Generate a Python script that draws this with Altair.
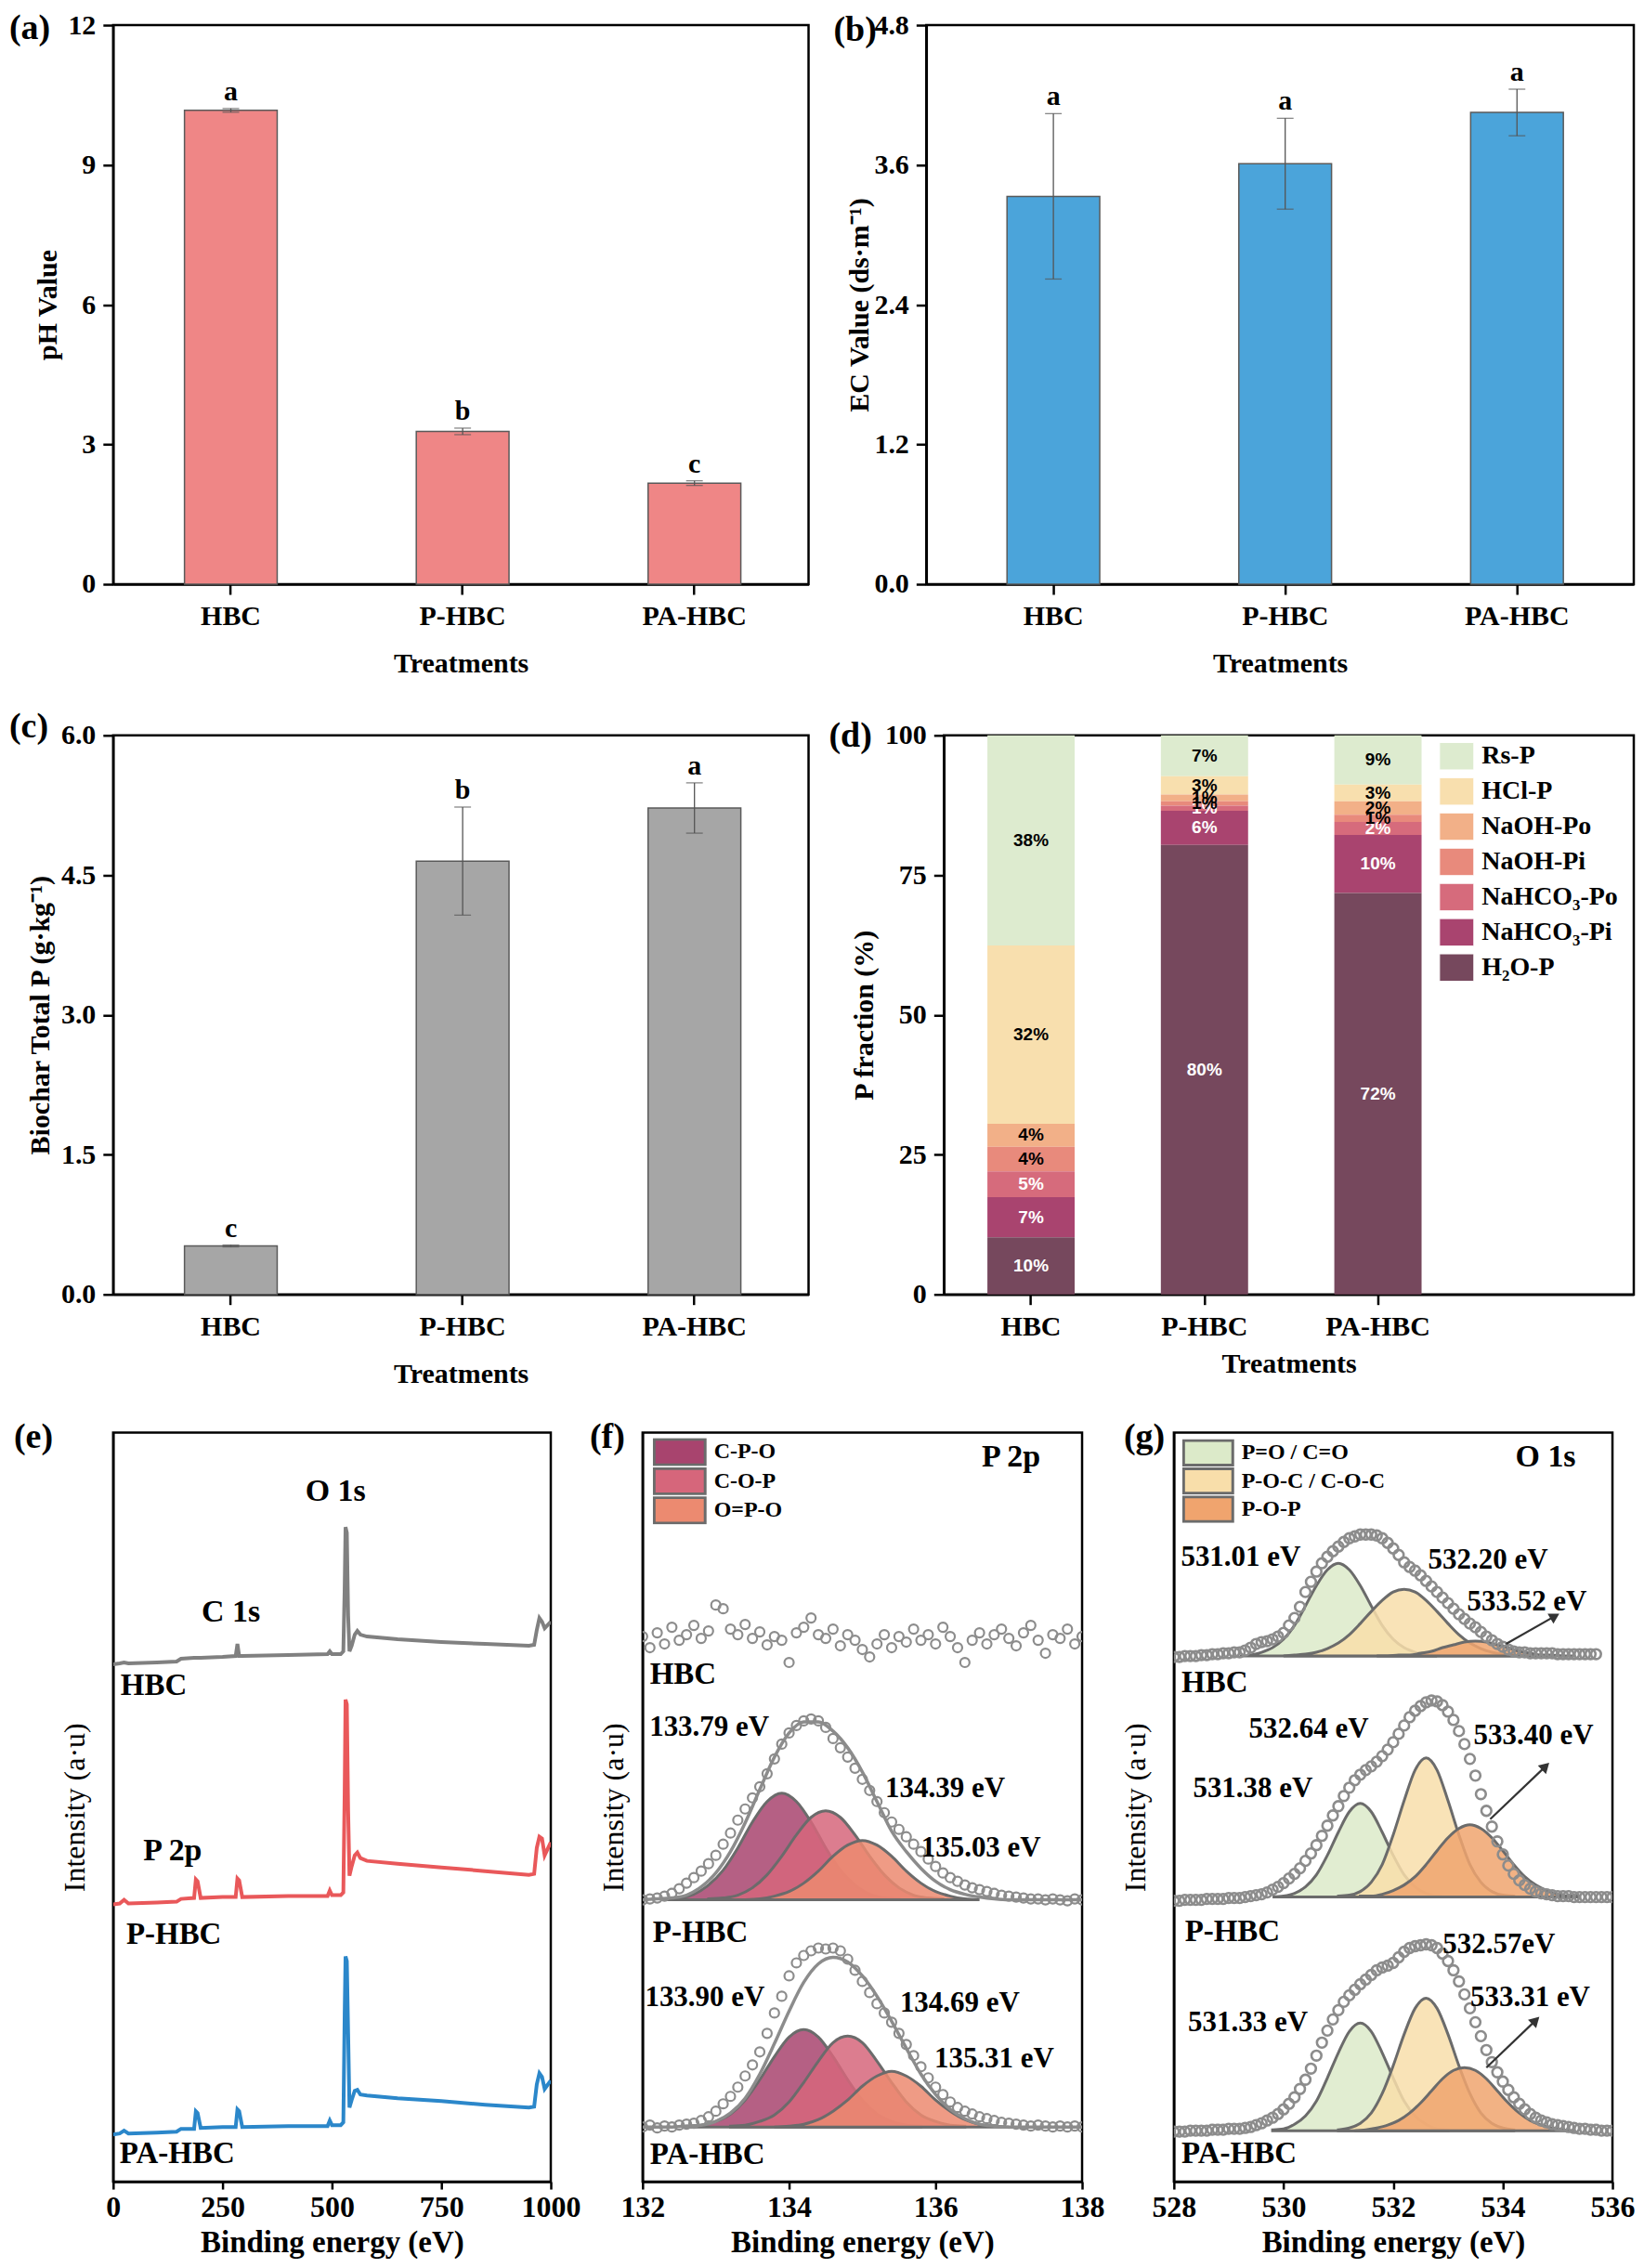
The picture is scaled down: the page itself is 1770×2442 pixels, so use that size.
import altair as alt
import pandas as pd

SERIF = "Liberation Serif"
SANS = "Liberation Sans"

# ---------------- (a)-(c) bar data ----------------
TREATMENTS = ["HBC", "P-HBC", "PA-HBC"]
PH_MEAN = [10.17, 3.28, 2.17]
PH_SD = [0.04, 0.07, 0.05]
PH_LETTER = ["a", "b", "c"]
EC_MEAN = [3.33, 3.61, 4.05]
EC_SD = [0.71, 0.39, 0.20]
EC_LETTER = ["a", "a", "a"]
TP_MEAN = [0.52, 4.65, 5.22]
TP_SD = [0.01, 0.58, 0.27]
TP_LETTER = ["c", "b", "a"]

# ---------------- (d) P fractions ----------------
FRACTIONS = ["Rs-P", "HCl-P", "NaOH-Po", "NaOH-Pi", "NaHCO₃-Po", "NaHCO₃-Pi", "H₂O-P"]
FRACTION_COLORS = ["#DDEBCF", "#F8DFAE", "#F2B088", "#E88A7C", "#D66B7C", "#A9446F", "#76485D"]
DARK_FRACTIONS = ["NaHCO₃-Po", "NaHCO₃-Pi", "H₂O-P"]
FRAC_HBC = [37.6, 31.9, 4.1, 4.4, 4.6, 7.2, 10.2]
FRAC_P_HBC = [7.3, 3.3, 1.2, 0.8, 0.9, 6.1, 80.4]
FRAC_PA_HBC = [8.8, 3.0, 2.4, 1.3, 2.3, 10.4, 71.8]

# ---------------- (e) XPS survey ----------------
SAMPLES = ["HBC", "P-HBC", "PA-HBC"]
E_COLORS = ["#808080", "#E9585A", "#2B87CA"]
E_ENERGY = [0, 15, 25, 35, 100, 145, 155, 185, 189, 193, 200, 250, 280, 284, 288, 295,
            400, 490, 495, 500, 520, 526, 529, 531, 534, 537, 540, 545, 552, 558, 565, 580,
            650, 750, 850, 950, 962, 968, 974, 980, 986, 992, 1000]
E_HBC = [558, 559, 560, 559, 560, 561, 564, 565, 565, 565, 565, 566, 567, 580, 567, 567,
         568, 569, 572, 569, 569, 572, 640, 706, 700, 610, 572, 578, 590, 594, 590, 588,
         585, 582, 580, 578, 579, 595, 608, 604, 597, 600, 604]
E_P_HBC = [299, 300, 304, 300, 301, 302, 305, 306, 326, 324, 306, 307, 307, 327, 325, 307,
           308, 308, 314, 309, 309, 312, 420, 520, 515, 400, 330, 340, 352, 355, 349, 346,
           343, 339, 335, 331, 332, 360, 372, 370, 352, 358, 366]
E_PA_HBC = [51, 52, 55, 52, 53, 54, 57, 57, 76, 74, 58, 59, 59, 78, 76, 59,
            60, 60, 66, 61, 61, 64, 180, 243, 238, 160, 80, 88, 98, 99, 94, 93,
            90, 87, 83, 80, 81, 105, 117, 113, 100, 104, 109]
E_SAMPLE_X = [17, 30, 15]
E_SAMPLE_Y = [535, 267, 30]
E_PEAK_TEXT = ["O 1s", "C 1s", "P 2p"]
E_PEAK_X = [508, 269, 136]
E_PEAK_Y = [744, 614, 357]

# ---------------- (f) P 2p ----------------
F_COMPONENTS = ["C-P-O", "C-O-P", "O=P-O"]
F_COMP_COLORS = ["#A8446E", "#D6667B", "#EC8A70"]
F_BASE_P = 304
F_BASE_PA = 59
F_PTS_X = [132.0, 132.1, 132.2, 132.3, 132.4, 132.5, 132.6, 132.7, 132.8, 132.9,
           133.0, 133.1, 133.2, 133.3, 133.4, 133.5, 133.6, 133.7, 133.8, 133.9,
           134.0, 134.1, 134.2, 134.3, 134.4, 134.5, 134.6, 134.7, 134.8, 134.9,
           135.0, 135.1, 135.2, 135.3, 135.4, 135.5, 135.6, 135.7, 135.8, 135.9,
           136.0, 136.1, 136.2, 136.3, 136.4, 136.5, 136.6, 136.7, 136.8, 136.9,
           137.0, 137.1, 137.2, 137.3, 137.4, 137.5, 137.6, 137.7, 137.8, 137.9,
           138.0]
F_HBC_PTS = [588, 576, 592, 580, 598, 584, 590, 600, 586, 594,
             622, 618, 596, 590, 601, 586, 593, 579, 588, 584,
             560, 592, 598, 608, 590, 586, 596, 578, 590, 584,
             574, 566, 580, 590, 576, 588, 582, 596, 584, 590,
             580, 598, 588, 576, 560, 584, 592, 580, 590, 596,
             586, 578, 592, 600, 584, 570, 590, 586, 596, 580,
             588]
F_P_PTS = [304, 305, 306, 308, 311, 316, 322, 328, 335, 343,
           352, 364, 376, 390, 402, 414, 426, 440, 456, 472,
           484, 492, 497, 499, 497, 490, 478, 468, 458, 446,
           434, 422, 410, 398, 388, 380, 372, 364, 356, 348,
           340, 333, 328, 324, 320, 317, 315, 313, 311, 309,
           308, 307, 306, 305, 305, 304, 305, 304, 303, 305,
           304]
F_PA_PTS = [59, 61, 58, 60, 59, 61, 62, 63, 66, 70,
            76, 84, 92, 102, 114, 126, 140, 160, 182, 200,
            222, 236, 244, 249, 252, 251, 252, 249, 240, 228,
            216, 204, 192, 182, 172, 160, 148, 136, 124, 112,
            102, 94, 86, 80, 76, 73, 70, 68, 66, 64,
            63, 62, 61, 60, 61, 60, 59, 60, 59, 60,
            59]
F_ENV_X = [132.0, 132.2, 132.4, 132.6, 132.8, 133.0, 133.2, 133.4, 133.6, 133.8,
           134.0, 134.2, 134.4, 134.6, 134.8, 135.0, 135.2, 135.4, 135.6, 135.8,
           136.0, 136.2, 136.4, 136.6, 136.8, 137.0, 137.2, 137.4, 137.6, 137.8, 138.0]
F_P_ENV = [304, 305, 306, 309, 318, 333, 356, 387, 423, 458,
           484, 496, 496, 486, 468, 442, 410, 378, 356, 338,
           324, 315, 310, 307, 305, 304, 304, 304, 304, 304, 304]
F_PA_ENV = [59, 59, 59, 60, 61, 65, 74, 90, 116, 149,
            184, 215, 235, 242, 237, 222, 200, 173, 144, 116,
            94, 78, 68, 62, 60, 59, 59, 59, 59, 59, 59]
F_P_CPO_X = [132.3, 132.5, 132.7, 132.9, 133.1, 133.3, 133.5, 133.7, 133.9,
             134.1, 134.3, 134.5, 134.7, 134.9, 135.1, 135.3, 135.5]
F_P_CPO_Y = [305, 306, 310, 320, 336, 360, 388, 410, 419, 410, 388, 360, 336, 320, 310, 306, 305]
F_P_COP_X = [132.9, 133.1, 133.3, 133.5, 133.7, 133.9, 134.1, 134.3, 134.5,
             134.7, 134.9, 135.1, 135.3, 135.5, 135.7, 135.9, 136.1]
F_P_COP_Y = [305, 306, 309, 317, 331, 351, 374, 393, 400, 393, 374, 351, 331, 317, 309, 306, 305]
F_P_OPO_X = [133.4, 133.6, 133.8, 134.0, 134.2, 134.4, 134.6, 134.8, 135.0,
             135.2, 135.4, 135.6, 135.8, 136.0, 136.2, 136.4, 136.6]
F_P_OPO_Y = [304, 305, 308, 313, 322, 335, 351, 363, 368, 363, 351, 335, 322, 313, 308, 305, 304]
F_PA_CPO_X = [132.6, 132.8, 133.0, 133.2, 133.4, 133.6, 133.8, 134.0, 134.2,
              134.4, 134.6, 134.8, 135.0, 135.2, 135.4, 135.6, 135.8]
F_PA_CPO_Y = [60, 61, 65, 73, 88, 110, 135, 156, 164, 156, 135, 110, 88, 73, 65, 61, 60]
F_PA_COP_X = [133.2, 133.4, 133.6, 133.8, 134.0, 134.2, 134.4, 134.6, 134.8,
              135.0, 135.2, 135.4, 135.6, 135.8, 136.0, 136.2, 136.4]
F_PA_COP_Y = [60, 61, 65, 72, 86, 107, 130, 150, 157, 150, 130, 107, 86, 72, 65, 61, 60]
F_PA_OPO_X = [133.8, 134.0, 134.2, 134.4, 134.6, 134.8, 135.0, 135.2, 135.4,
              135.6, 135.8, 136.0, 136.2, 136.4, 136.6, 136.8, 137.0]
F_PA_OPO_Y = [59, 60, 62, 67, 76, 88, 103, 114, 119, 114, 103, 88, 76, 67, 62, 60, 59]
F_SAMPLE_X = [132.10, 132.14, 132.10]
F_SAMPLE_Y = [547, 269, 29]
F_PEAK_TEXT = ["133.79 eV", "134.39 eV", "135.03 eV", "133.90 eV", "134.69 eV", "135.31 eV"]
F_PEAK_X = [132.91, 136.13, 136.62, 132.85, 136.33, 136.80]
F_PEAK_Y = [490, 424, 360, 198, 192, 132]
F_HEAD_X = [137.03]
F_HEAD_Y = [781]

# ---------------- (g) O 1s ----------------
G_COMPONENTS = ["P=O / C=O", "P-O-C / C-O-C", "P-O-P"]
G_COMP_COLORS = ["#DCEAC9", "#F8DEAA", "#F0A46E"]
G_BASE_HBC = 567
G_BASE_P = 307
G_BASE_PA = 55
G_PTS_X = [528.0, 528.1, 528.2, 528.3, 528.4, 528.5, 528.6, 528.7, 528.8, 528.9,
           529.0, 529.1, 529.2, 529.3, 529.4, 529.5, 529.6, 529.7, 529.8, 529.9,
           530.0, 530.1, 530.2, 530.3, 530.4, 530.5, 530.6, 530.7, 530.8, 530.9,
           531.0, 531.1, 531.2, 531.3, 531.4, 531.5, 531.6, 531.7, 531.8, 531.9,
           532.0, 532.1, 532.2, 532.3, 532.4, 532.5, 532.6, 532.7, 532.8, 532.9,
           533.0, 533.1, 533.2, 533.3, 533.4, 533.5, 533.6, 533.7, 533.8, 533.9,
           534.0, 534.1, 534.2, 534.3, 534.4, 534.5, 534.6, 534.7, 534.8, 534.9,
           535.0, 535.1, 535.2, 535.3, 535.4, 535.5, 535.6, 535.7, 535.8, 535.9,
           536.0]
G_HBC_PTS = [566, 566, 567, 567, 567, 568, 568, 569, 569, 570,
             570, 571, 571, 573, 576, 580, 582, 583, 585, 588,
             592, 600, 608, 620, 636, 647, 658, 667, 674, 680,
             685, 690, 694, 696, 698, 698, 698, 697, 694, 689,
             683, 676, 668, 663, 659, 654, 648, 642, 636, 630,
             624, 618, 612, 607, 602, 598, 593, 588, 584, 580,
             577, 574, 572, 571, 571, 570, 570, 570, 570, 570,
             569, 569, 569, 569, 569, 569, 569, 569]
G_P_PTS = [303, 303, 304, 304, 304, 304, 305, 305, 305, 305,
           306, 306, 306, 307, 308, 309, 310, 312, 315, 318,
           322, 327, 332, 338, 346, 354, 363, 373, 384, 395,
           405, 416, 425, 433, 439, 444, 448, 453, 459, 466,
           474, 483, 492, 501, 508, 513, 517, 519, 518, 514,
           507, 498, 486, 472, 456, 438, 418, 400, 383, 367,
           353, 341, 332, 325, 320, 316, 313, 311, 310, 309,
           308, 308, 308, 307, 307, 307, 307, 307, 307, 307,
           307]
G_PA_PTS = [54, 54, 54, 55, 55, 55, 55, 56, 56, 56,
            57, 57, 57, 58, 59, 61, 63, 66, 69, 73,
            78, 84, 91, 100, 110, 122, 136, 150, 163, 175,
            185, 194, 201, 207, 213, 218, 223, 228, 231, 233,
            236, 242, 248, 252, 254, 255, 256, 255, 252, 246,
            238, 228, 216, 202, 187, 172, 157, 142, 129, 118,
            108, 99, 91, 84, 78, 73, 69, 66, 64, 62,
            61, 60, 59, 58, 57, 57, 56, 56, 55, 55,
            55]
G_H_GRN_X = [529.2, 529.4, 529.6, 529.8, 530.0, 530.2, 530.4, 530.6, 530.8, 531.0,
             531.2, 531.4, 531.6, 531.8, 532.0, 532.2, 532.4, 532.6, 532.8]
G_H_GRN_Y = [567, 568, 571, 576, 585, 600, 621, 643, 660, 667, 660, 643, 621, 600, 585, 576, 571, 568, 567]
G_H_YEL_X = [530.0, 530.2, 530.4, 530.6, 530.8, 531.0, 531.2, 531.4, 531.6, 531.8, 532.0, 532.2,
             532.4, 532.6, 532.8, 533.0, 533.2, 533.4, 533.6, 533.8, 534.0, 534.2, 534.4]
G_H_YEL_Y = [567, 568, 569, 571, 575, 581, 590, 602, 615, 627, 636, 639,
             636, 627, 615, 602, 590, 581, 575, 571, 569, 568, 567]
G_H_ORG_X = [531.7, 531.9, 532.1, 532.3, 532.5, 532.7, 532.9, 533.1, 533.3, 533.5,
             533.7, 533.9, 534.1, 534.3, 534.5, 534.7, 534.9, 535.1, 535.3]
G_H_ORG_Y = [567, 567, 568, 568, 570, 572, 576, 579, 582, 583, 582, 579, 576, 572, 570, 568, 568, 567, 567]
G_P_GRN_X = [529.8, 530.0, 530.2, 530.4, 530.6, 530.8, 531.0, 531.2, 531.4,
             531.6, 531.8, 532.0, 532.2, 532.4, 532.6, 532.8, 533.0]
G_P_GRN_Y = [307, 308, 311, 318, 331, 352, 377, 399, 408, 399, 377, 352, 331, 318, 311, 308, 307]
G_P_YEL_X = [531.0, 531.2, 531.4, 531.6, 531.8, 532.0, 532.2, 532.4, 532.6,
             532.8, 533.0, 533.2, 533.4, 533.6, 533.8, 534.0, 534.2]
G_P_YEL_Y = [308, 309, 313, 323, 342, 374, 411, 444, 457, 444, 411, 374, 342, 323, 313, 309, 308]
G_P_ORG_X = [531.4, 531.6, 531.8, 532.0, 532.2, 532.4, 532.6, 532.8, 533.0, 533.2, 533.4,
             533.6, 533.8, 534.0, 534.2, 534.4, 534.6, 534.8, 535.0, 535.2, 535.4]
G_P_ORG_Y = [308, 308, 310, 314, 320, 329, 342, 357, 371, 381, 385,
             381, 371, 357, 342, 329, 320, 314, 310, 308, 308]
G_PA_GRN_X = [529.8, 530.0, 530.2, 530.4, 530.6, 530.8, 531.0, 531.2, 531.4,
              531.6, 531.8, 532.0, 532.2, 532.4, 532.6, 532.8, 533.0]
G_PA_GRN_Y = [56, 57, 62, 71, 87, 112, 139, 162, 171, 162, 139, 112, 87, 71, 62, 57, 56]
G_PA_YEL_X = [531.0, 531.2, 531.4, 531.6, 531.8, 532.0, 532.2, 532.4, 532.6,
              532.8, 533.0, 533.2, 533.4, 533.6, 533.8, 534.0, 534.2]
G_PA_YEL_Y = [56, 58, 63, 74, 95, 125, 159, 187, 198, 187, 159, 125, 95, 74, 63, 58, 56]
G_PA_ORG_X = [531.3, 531.5, 531.7, 531.9, 532.1, 532.3, 532.5, 532.7, 532.9, 533.1, 533.3,
              533.5, 533.7, 533.9, 534.1, 534.3, 534.5, 534.7, 534.9, 535.1, 535.3]
G_PA_ORG_Y = [55, 56, 58, 61, 66, 74, 85, 98, 111, 120, 123,
              120, 111, 98, 85, 74, 66, 61, 58, 56, 55]
G_SAMPLE_X = [528.14, 528.20, 528.14]
G_SAMPLE_Y = [538, 270, 30]
G_PEAK_TEXT = ["531.01 eV", "532.20 eV", "533.52 eV", "532.64 eV", "531.38 eV", "533.40 eV",
               "532.57eV", "531.33 eV", "533.31 eV"]
G_PEAK_X = [529.22, 533.73, 534.44, 530.46, 529.44, 534.56, 533.93, 529.35, 534.50]
G_PEAK_Y = [673, 670, 625, 488, 424, 481, 255, 171, 198]
G_HEAD_X = [534.78]
G_HEAD_Y = [781]
G_ARROW_X0 = [534.06, 533.77, 533.70]
G_ARROW_Y0 = [580, 391, 123]
G_ARROW_X1 = [534.95, 534.78, 534.60]
G_ARROW_Y1 = [610, 448, 174]
G_ARROW_ANGLE = [60, 46, 46]


def mk_axis(**kw):
    d = dict(labelFont=SERIF, titleFont=SERIF, labelFontWeight="bold", titleFontWeight="bold",
             labelColor="black", titleColor="black", domainColor="black", tickColor="black",
             domainWidth=2.5, tickWidth=2.5, grid=False, labelFlush=False, labelOverlap=False)
    d.update(kw)
    return alt.Axis(**d)


def tag_layer(tag, px, py):
    # panel letter, placed in pixels relative to the plot area
    return alt.Chart(pd.DataFrame({"t": [tag]})).mark_text(
        font=SERIF, fontWeight="bold", fontSize=38, align="left", baseline="middle",
        color="black").encode(x=alt.value(px), y=alt.value(py), text="t:N")


def bar_panel(tag, means, sds, letters, color, ymax, yticks, yfmt, ytitle, ytp,
              width, pad_outer, align, tag_dx, tag_dy):
    df = pd.DataFrame({"t": TREATMENTS, "v": means, "sd": sds, "lab": letters})
    df["lo"] = df["v"] - df["sd"]
    df["hi"] = df["v"] + df["sd"]
    xs = alt.Scale(domain=TREATMENTS, paddingInner=0.6, paddingOuter=pad_outer, align=align)
    xa = mk_axis(title="Treatments", labelAngle=0, labelFontSize=30, titleFontSize=30,
                 tickSize=11, labelPadding=9, titlePadding=21)
    ys = alt.Scale(domain=[0, ymax], nice=False, zero=True)
    ya = mk_axis(title=ytitle, values=yticks, format=yfmt, labelFontSize=30, titleFontSize=30,
                 tickSize=11, labelPadding=8, titlePadding=ytp)
    X = alt.X("t:N", scale=xs, axis=xa, sort=TREATMENTS)
    base = alt.Chart(df)
    bars = base.mark_bar(color=color, stroke="#5a5a5a", strokeWidth=1.5).encode(
        x=X, y=alt.Y("v:Q", scale=ys, axis=ya))
    err = base.mark_rule(color="#555555", strokeWidth=1.3).encode(
        x=X, y=alt.Y("lo:Q", scale=ys, axis=ya), y2="hi:Q")
    cap_hi = base.mark_tick(color="#555555", size=18, thickness=1.3).encode(
        x=X, y=alt.Y("hi:Q", scale=ys, axis=ya))
    cap_lo = base.mark_tick(color="#555555", size=18, thickness=1.3).encode(
        x=X, y=alt.Y("lo:Q", scale=ys, axis=ya))
    txt = base.mark_text(font=SERIF, fontWeight="bold", fontSize=30, baseline="bottom",
                         dy=-3, color="black").encode(
        x=X, y=alt.Y("hi:Q", scale=ys, axis=ya), text="lab:N")
    return alt.layer(bars, err, cap_hi, cap_lo, txt, tag_layer(tag, tag_dx, tag_dy)).properties(
        width=width, height=603)


def frac_panel(width, pad_outer, align, ytp, legend_x, tag_dx, tag_dy):
    rows = []
    for t, vals in zip(TREATMENTS, [FRAC_HBC, FRAC_P_HBC, FRAC_PA_HBC]):
        for i, (f, v) in enumerate(zip(FRACTIONS, vals)):
            rows.append({"t": t, "frac": f, "v": v, "ord": len(FRACTIONS) - 1 - i,
                         "dark": f in DARK_FRACTIONS})
    dfd = pd.DataFrame(rows)
    xs = alt.Scale(domain=TREATMENTS, paddingInner=0.497, paddingOuter=pad_outer, align=align)
    xa = mk_axis(title="Treatments", labelAngle=0, labelFontSize=30, titleFontSize=30,
                 tickSize=11, labelPadding=9, titlePadding=10)
    ys = alt.Scale(domain=[0, 100], nice=False)
    ya = mk_axis(title="P fraction (%)", values=[0, 25, 50, 75, 100], format="d",
                 labelFontSize=30, titleFontSize=30, tickSize=11, labelPadding=8, titlePadding=ytp)
    X = alt.X("t:N", scale=xs, axis=xa, sort=TREATMENTS)
    base = alt.Chart(dfd).transform_stack(
        stack="v", groupby=["t"], as_=["y0", "y1"],
        sort=[alt.SortField("ord", order="ascending")]
    ).transform_calculate(mid="(datum.y0 + datum.y1) / 2",
                          lab="format(datum.v, '.0f') + '%'")
    legend = alt.Legend(title=None, orient="none", legendX=legend_x, legendY=7,
                        symbolType="M-1,-0.8H1V0.8H-1Z", symbolSize=1369,
                        symbolStrokeColor="white", symbolStrokeWidth=1, symbolOpacity=1,
                        labelFont=SERIF, labelFontWeight="bold", labelFontSize=28,
                        labelColor="black", rowPadding=7, clipHeight=31, labelOffset=8,
                        padding=0, labelLimit=300)
    bars = base.mark_bar().encode(
        x=X, y=alt.Y("y0:Q", scale=ys, axis=ya), y2="y1:Q",
        color=alt.Color("frac:N", scale=alt.Scale(domain=FRACTIONS, range=FRACTION_COLORS),
                        legend=legend))
    t_white = base.transform_filter("datum.dark").mark_text(
        font=SANS, fontWeight="bold", fontSize=19, color="white").encode(
        x=X, y=alt.Y("mid:Q", scale=ys, axis=ya), text="lab:N")
    t_black = base.transform_filter("!datum.dark").mark_text(
        font=SANS, fontWeight="bold", fontSize=19, color="black").encode(
        x=X, y=alt.Y("mid:Q", scale=ys, axis=ya), text="lab:N")
    return alt.layer(bars, t_white, t_black, tag_layer("(d)", tag_dx, tag_dy)).properties(
        width=width, height=603)


Y_BOT = alt.Scale(domain=[0, 808], nice=False, zero=False)


def bot_axes(domain, values, ytp):
    xs = alt.Scale(domain=domain, nice=False, zero=False)
    xa = mk_axis(title="Binding energy (eV)", values=values, format="d", labelFontSize=32,
                 titleFontSize=33, tickSize=8, labelPadding=4, titlePadding=7)
    ya = mk_axis(title="Intensity (a·u)", ticks=False, labels=False, titleFontWeight="normal",
                 titleFontSize=32, titlePadding=ytp)
    return xs, xa, ya


def text_layer(xs_list, ys_list, texts, xs, xa, ya, align, size):
    df = pd.DataFrame({"x": xs_list, "y": ys_list, "t": texts})
    return alt.Chart(df).mark_text(font=SERIF, fontWeight="bold", fontSize=size, align=align,
                                   baseline="middle", color="black").encode(
        x=alt.X("x:Q", scale=xs, axis=xa), y=alt.Y("y:Q", scale=Y_BOT, axis=ya), text="t:N")


def comp_frame(xs_list, ys_list, base, comp, spec):
    return pd.DataFrame({"x": xs_list, "y": ys_list, "base": [base] * len(xs_list),
                         "comp": [comp] * len(xs_list), "spec": [spec] * len(xs_list)})


def area_layers(df, comps, colors, xs, xa, ya, legend):
    out = []
    for c in comps:
        out.append(alt.Chart(df[df["comp"] == c]).mark_area(
            interpolate="monotone", fillOpacity=0.85, stroke="#6b6b6b", strokeWidth=3,
            clip=True).encode(
            x=alt.X("x:Q", scale=xs, axis=xa), y=alt.Y("y:Q", scale=Y_BOT, axis=ya), y2="base:Q",
            color=alt.Color("comp:N", scale=alt.Scale(domain=comps, range=colors), legend=legend),
            detail="spec:N"))
    return out


def comp_legend(legend_x, legend_y, row_pad, sym_size, clip_h):
    return alt.Legend(title=None, orient="none", legendX=legend_x, legendY=legend_y,
                      symbolType="M-1,-0.5H1V0.5H-1Z", symbolSize=sym_size,
                      symbolStrokeColor="#6b6b6b", symbolStrokeWidth=3, symbolOpacity=1,
                      labelFont=SERIF, labelFontWeight="bold", labelFontSize=24,
                      labelColor="black", rowPadding=row_pad, clipHeight=clip_h,
                      labelOffset=8, padding=0, labelLimit=300)


def panel_e():
    xs, xa, ya = bot_axes([0, 1000], [0, 250, 500, 750, 1000], 24)
    n = len(E_ENERGY)
    df = pd.DataFrame({"x": E_ENERGY * 3, "y": E_HBC + E_P_HBC + E_PA_HBC,
                       "s": ["HBC"] * n + ["P-HBC"] * n + ["PA-HBC"] * n})
    lines = alt.Chart(df).mark_line(strokeWidth=4, clip=True).encode(
        x=alt.X("x:Q", scale=xs, axis=xa), y=alt.Y("y:Q", scale=Y_BOT, axis=ya),
        color=alt.Color("s:N", scale=alt.Scale(domain=SAMPLES, range=E_COLORS), legend=None))
    t1 = text_layer(E_SAMPLE_X, E_SAMPLE_Y, SAMPLES, xs, xa, ya, "left", 33)
    t2 = text_layer(E_PEAK_X, E_PEAK_Y, E_PEAK_TEXT, xs, xa, ya, "center", 34)
    return alt.layer(lines, t1, t2, tag_layer("(e)", -107, 6)).properties(width=472, height=808)


def panel_f():
    xs, xa, ya = bot_axes([132, 138], [132, 134, 136, 138], 14)
    comps = pd.concat([
        comp_frame(F_P_CPO_X, F_P_CPO_Y, F_BASE_P, "C-P-O", "P-HBC"),
        comp_frame(F_P_COP_X, F_P_COP_Y, F_BASE_P, "C-O-P", "P-HBC"),
        comp_frame(F_P_OPO_X, F_P_OPO_Y, F_BASE_P, "O=P-O", "P-HBC"),
        comp_frame(F_PA_CPO_X, F_PA_CPO_Y, F_BASE_PA, "C-P-O", "PA-HBC"),
        comp_frame(F_PA_COP_X, F_PA_COP_Y, F_BASE_PA, "C-O-P", "PA-HBC"),
        comp_frame(F_PA_OPO_X, F_PA_OPO_Y, F_BASE_PA, "O=P-O", "PA-HBC"),
    ], ignore_index=True)
    areas = area_layers(comps, F_COMPONENTS, F_COMP_COLORS, xs, xa, ya,
                        comp_legend(11, 6, 1.5, 3025, 30))
    env = pd.DataFrame({"x": F_ENV_X * 2, "y": F_P_ENV + F_PA_ENV,
                        "spec": ["P-HBC"] * len(F_ENV_X) + ["PA-HBC"] * len(F_ENV_X)})
    env_line = alt.Chart(env).mark_line(interpolate="monotone", color="#8c8c8c",
                                        strokeWidth=3.5, clip=True).encode(
        x=alt.X("x:Q", scale=xs, axis=xa), y=alt.Y("y:Q", scale=Y_BOT, axis=ya), detail="spec:N")
    m = len(F_PTS_X)
    pts = pd.DataFrame({"x": F_PTS_X * 3, "y": F_HBC_PTS + F_P_PTS + F_PA_PTS,
                        "spec": ["HBC"] * m + ["P-HBC"] * m + ["PA-HBC"] * m})
    circles = alt.Chart(pts).mark_point(shape="circle", filled=False, color="#8c8c8c",
                                        strokeWidth=2.2, size=100, opacity=1, clip=True).encode(
        x=alt.X("x:Q", scale=xs, axis=xa), y=alt.Y("y:Q", scale=Y_BOT, axis=ya))
    t1 = text_layer(F_SAMPLE_X, F_SAMPLE_Y, SAMPLES, xs, xa, ya, "left", 33)
    t2 = text_layer(F_PEAK_X, F_PEAK_Y, F_PEAK_TEXT, xs, xa, ya, "center", 31)
    t3 = text_layer(F_HEAD_X, F_HEAD_Y, ["P 2p"], xs, xa, ya, "center", 34)
    return alt.layer(*areas, env_line, circles, t1, t2, t3, tag_layer("(f)", -57, 6)).properties(
        width=474, height=808)


def panel_g():
    xs, xa, ya = bot_axes([528, 536], [528, 530, 532, 534, 536], 24)
    comps = pd.concat([
        comp_frame(G_H_GRN_X, G_H_GRN_Y, G_BASE_HBC, G_COMPONENTS[0], "HBC"),
        comp_frame(G_H_YEL_X, G_H_YEL_Y, G_BASE_HBC, G_COMPONENTS[1], "HBC"),
        comp_frame(G_H_ORG_X, G_H_ORG_Y, G_BASE_HBC, G_COMPONENTS[2], "HBC"),
        comp_frame(G_P_GRN_X, G_P_GRN_Y, G_BASE_P, G_COMPONENTS[0], "P-HBC"),
        comp_frame(G_P_YEL_X, G_P_YEL_Y, G_BASE_P, G_COMPONENTS[1], "P-HBC"),
        comp_frame(G_P_ORG_X, G_P_ORG_Y, G_BASE_P, G_COMPONENTS[2], "P-HBC"),
        comp_frame(G_PA_GRN_X, G_PA_GRN_Y, G_BASE_PA, G_COMPONENTS[0], "PA-HBC"),
        comp_frame(G_PA_YEL_X, G_PA_YEL_Y, G_BASE_PA, G_COMPONENTS[1], "PA-HBC"),
        comp_frame(G_PA_ORG_X, G_PA_ORG_Y, G_BASE_PA, G_COMPONENTS[2], "PA-HBC"),
    ], ignore_index=True)
    areas = area_layers(comps, G_COMPONENTS, G_COMP_COLORS, xs, xa, ya,
                        comp_legend(9, 7, 0.5, 2809, 29.5))
    nh = len(G_HBC_PTS)
    pts = pd.DataFrame({"x": G_PTS_X[:nh] + G_PTS_X * 2,
                        "y": G_HBC_PTS + G_P_PTS + G_PA_PTS})
    circles = alt.Chart(pts).mark_point(shape="circle", filled=False, color="#8c8c8c",
                                        strokeWidth=2.6, size=115, opacity=1, clip=True).encode(
        x=alt.X("x:Q", scale=xs, axis=xa), y=alt.Y("y:Q", scale=Y_BOT, axis=ya))
    arr = pd.DataFrame({"x0": G_ARROW_X0, "y0": G_ARROW_Y0, "x1": G_ARROW_X1,
                        "y1": G_ARROW_Y1, "ang": G_ARROW_ANGLE})
    shaft = alt.Chart(arr).mark_rule(color="#333333", strokeWidth=2.2).encode(
        x=alt.X("x0:Q", scale=xs, axis=xa), y=alt.Y("y0:Q", scale=Y_BOT, axis=ya),
        x2="x1:Q", y2="y1:Q")
    head = alt.Chart(arr).mark_point(shape="triangle-up", filled=True, color="#333333",
                                     size=160, opacity=1).encode(
        x=alt.X("x1:Q", scale=xs, axis=xa), y=alt.Y("y1:Q", scale=Y_BOT, axis=ya),
        angle=alt.Angle("ang:Q", scale=None))
    t1 = text_layer(G_SAMPLE_X, G_SAMPLE_Y, SAMPLES, xs, xa, ya, "left", 33)
    t2 = text_layer(G_PEAK_X, G_PEAK_Y, G_PEAK_TEXT, xs, xa, ya, "center", 31)
    t3 = text_layer(G_HEAD_X, G_HEAD_Y, ["O 1s"], xs, xa, ya, "center", 34)
    return alt.layer(*areas, circles, shaft, head, t1, t2, t3,
                     tag_layer("(g)", -54, 6)).properties(width=473, height=808)


pa = bar_panel("(a)", PH_MEAN, PH_SD, PH_LETTER, "#EF8686", 12, [0, 3, 6, 9, 12], "d",
               "pH Value", 6, 750, 0.3, 0.513, -112, 4)
pb = bar_panel("(b)", EC_MEAN, EC_SD, EC_LETTER, "#4BA4DA", 4.8, [0, 1.2, 2.4, 3.6, 4.8], ".1f",
               "EC Value (ds·m⁻¹)", 0, 763, 0.326, 0.534, -100, 6)
pc = bar_panel("(c)", TP_MEAN, TP_SD, TP_LETTER, "#A6A6A6", 6.0, [0, 1.5, 3.0, 4.5, 6.0], ".1f",
               "Biochar Total P (g·kg⁻¹)", 7, 750, 0.3, 0.513, -112, -9)
pd_ = frac_panel(744, 0.737, 0.17, 7, 534, -124, 1)

RES = dict(x="independent", y="independent", color="independent")
row1 = alt.hconcat(pa, pb, spacing=127, bounds="flush").resolve_scale(**RES)
row2 = alt.hconcat(pc, pd_, spacing=146, bounds="flush").resolve_scale(**RES)
row3 = alt.hconcat(panel_e(), panel_f(), panel_g(), spacing=99, bounds="flush").resolve_scale(
    **RES).resolve_legend(color="independent")
top = alt.vconcat(row1, row2, spacing=30).resolve_scale(**RES)
chart = alt.vconcat(top, row3, spacing=31).resolve_scale(**RES).resolve_legend(
    color="independent").properties(padding=0, background="white").configure_view(
    stroke="black", strokeWidth=2.5)

chart.save("out.html", embed_options={"renderer": "svg", "actions": False})
